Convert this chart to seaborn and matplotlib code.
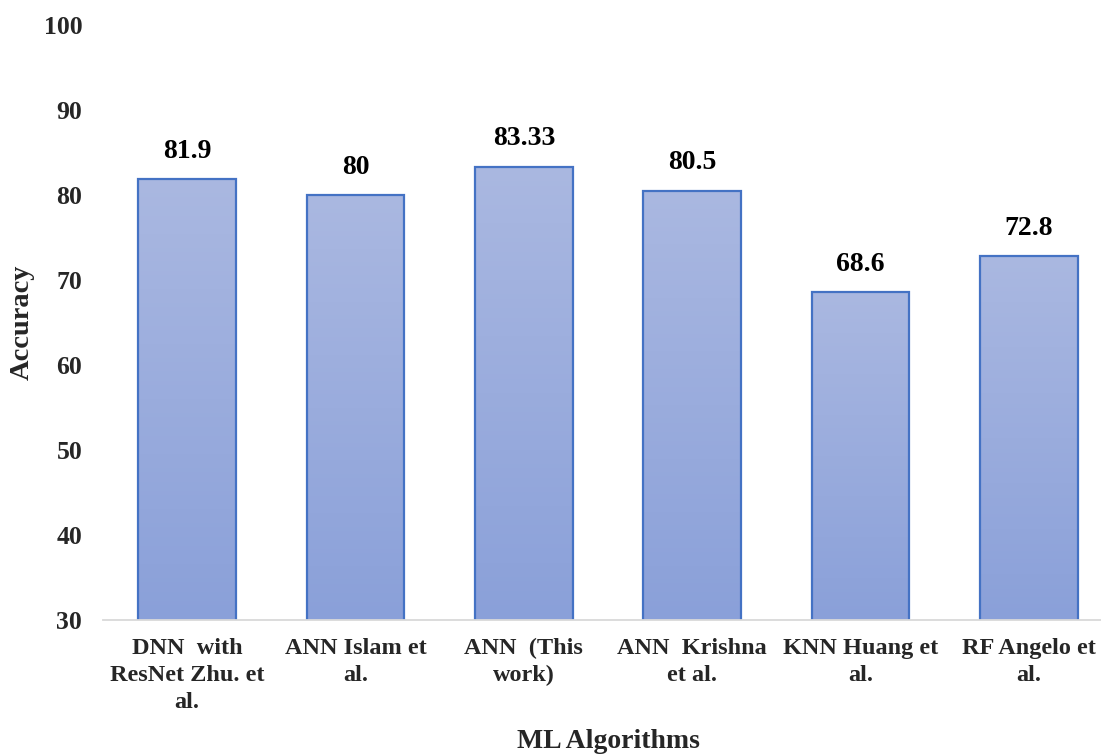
import numpy as np
import pandas as pd
import matplotlib
matplotlib.use("Agg")
import matplotlib.pyplot as plt
from matplotlib.colors import LinearSegmentedColormap
import seaborn as sns

algorithms = [
    "DNN  with\nResNet Zhu. et\nal.",
    "ANN Islam et\nal.",
    "ANN  (This\nwork)",
    "ANN  Krishna\net al.",
    "KNN Huang et\nal.",
    "RF Angelo et\nal.",
]
accuracy = [81.9, 80, 83.33, 80.5, 68.6, 72.8]
value_labels = ["81.9", "80", "83.33", "80.5", "68.6", "72.8"]
y_ticks = [30, 40, 50, 60, 70, 80, 90, 100]

df = pd.DataFrame({"algorithm": algorithms, "accuracy": accuracy})

sns.set_theme(style="white")
plt.rcParams["font.family"] = ["Liberation Serif", "DejaVu Serif"]
plt.rcParams["font.weight"] = "bold"

fig = plt.figure(figsize=(11.01, 7.55), dpi=100)
ax = fig.add_axes([103 / 1101, 135 / 755, 1010 / 1101, 595 / 755])

sns.barplot(data=df, x="algorithm", y="accuracy", ax=ax, width=0.58,
            color="#9AACDD", edgecolor="#4472C4", linewidth=1.6)

ax.set_ylim(30, 100)
ax.set_xlim(-0.5, 5.5)

# vertical gradient fill for each bar, clipped to the bar outline
grad_cmap = LinearSegmentedColormap.from_list("bar_grad", ["#8AA0D9", "#AAB8E1"])
grad = np.linspace(0, 1, 256).reshape(-1, 1)
for patch in ax.patches:
    x0, y0 = patch.get_x(), patch.get_y()
    w, h = patch.get_width(), patch.get_height()
    y_bot = max(y0, 30)
    im = ax.imshow(grad, cmap=grad_cmap, origin="lower", aspect="auto",
                   extent=[x0, x0 + w, y_bot, y0 + h], zorder=patch.get_zorder() - 0.1,
                   interpolation="bicubic")
    im.set_clip_path(patch)
    patch.set_facecolor("none")
ax.set_xlim(-0.5, 5.5)
ax.set_ylim(30, 100)

for i, (v, lab) in enumerate(zip(accuracy, value_labels)):
    ax.annotate(lab, xy=(i, v), xytext=(0, 11), textcoords="offset points",
                ha="center", va="bottom", fontsize=20, fontweight="bold",
                color="#000000")

ax.set_yticks(y_ticks)
ax.set_yticklabels([str(t) for t in y_ticks], fontsize=18.5, fontweight="bold")
ax.tick_params(axis="y", length=0, pad=15)
ax.tick_params(axis="x", length=0, pad=13)
for lbl in ax.get_xticklabels():
    lbl.set_fontsize(17.5)
    lbl.set_fontweight("bold")
    lbl.set_linespacing(1.36)
    lbl.set_ha("center")
    lbl.set_va("top")

ax.set_xlabel("ML Algorithms", fontsize=20, fontweight="bold")
ax.set_ylabel("Accuracy", fontsize=20.5, fontweight="bold")
ax.xaxis.set_label_coords(0.5, -0.183)
ax.yaxis.set_label_coords(-0.068, 0.5)

for side in ["left", "right", "top"]:
    ax.spines[side].set_visible(False)
ax.spines["bottom"].set_color("#D9D9D9")
ax.spines["bottom"].set_linewidth(1.3)
ax.grid(False)

fig.savefig("out.png", dpi=100)
